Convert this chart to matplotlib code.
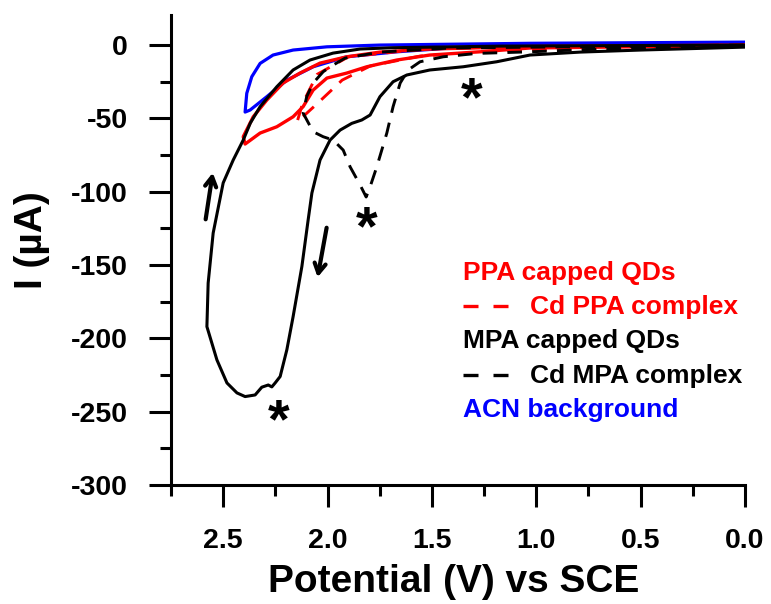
import matplotlib.pyplot as plt
import numpy as np
from matplotlib.ticker import MultipleLocator, FormatStrFormatter

plt.rcParams["font.family"] = ["Liberation Sans", "DejaVu Sans"]
plt.rcParams["font.weight"] = "bold"

# MPA capped QDs (black, solid) - forward scan to 2.58 V then back
mpa_v = [0.0, 0.50, 0.79, 1.03, 1.19, 1.35, 1.51, 1.62, 1.686, 1.749, 1.796, 1.836,
         1.884, 1.94, 1.988, 2.036, 2.075, 2.093, 2.123, 2.165, 2.195, 2.227, 2.251,
         2.267, 2.284, 2.315, 2.347, 2.395, 2.434, 2.482, 2.53, 2.578,
         2.572, 2.548, 2.50, 2.452, 2.404, 2.37, 2.323, 2.243, 2.165, 2.084, 1.974,
         1.844, 1.686, 1.17, 0.0]
mpa_i = [-1.4, -3.4, -4.8, -6.8, -11.4, -14.8, -17.0, -20.4, -25.0, -35.2, -47.7, -51.1,
         -53.4, -58.0, -64.8, -78.4, -100.9, -119.3, -151.0, -185.2, -207.8, -226.0, -230.4,
         -233.1, -231.8, -233.3, -238.6, -239.7, -237.2, -230.4, -214.7, -192.0,
         -162.3, -128.2, -94.0, -78.4, -64.8, -53.2, -42.0, -28.4, -17.0, -10.2, -5.5,
         -2.7, -1.8, -0.7, 0.0]

# Cd MPA complex (black, dashed)
cdmpa_v = [0.0, 0.694, 1.03, 1.285, 1.446, 1.557, 1.614, 1.652, 1.686, 1.716, 1.764,
           1.796, 1.815, 1.844, 1.892, 1.925, 1.973, 2.021, 2.069, 2.117,
           2.10, 2.069, 2.021, 1.987, 1.916, 1.749, 1.413, 0.0]
cdmpa_i = [-0.3, -2.7, -4.6, -5.7, -8.0, -11.4, -17.0, -25.9, -42.0, -60.0, -83.0,
           -96.6, -103.6, -95.4, -83.0, -71.6, -64.8, -62.5, -59.1, -46.4,
           -35.2, -25.9, -18.2, -14.8, -8.9, -4.8, -2.0, 0.0]

# PPA capped QDs (red, solid)
ppa_v = [0.0, 1.03, 1.27, 1.51, 1.668, 1.812, 1.908, 2.003, 2.069, 2.117, 2.165, 2.243,
         2.323, 2.395, 2.404, 2.356, 2.291, 2.213, 2.132, 2.036, 1.908, 1.749, 1.51,
         1.03, 0.0]
ppa_i = [-0.3, -2.0, -4.6, -6.8, -10.2, -14.8, -19.1, -22.5, -30.7, -42.0, -48.9, -55.7,
         -60.0, -67.5, -62.5, -48.9, -37.5, -25.9, -19.1, -12.3, -8.0, -4.8, -2.7,
         -1.0, 0.0]

# Cd PPA complex (red, dashed)
cdppa_v = [0.0, 1.08, 1.556, 1.796, 1.93, 2.05, 2.146, 2.12, 2.05, 1.90, 1.50, 0.0]
cdppa_i = [-0.7, -3.4, -7.5, -14.3, -23.9, -40.0, -52.5, -40.0, -20.0, -8.0, -2.0, 0.0]

# ACN background (blue)
acn_v = [0.0, 1.03, 1.429, 1.668, 1.908, 2.069, 2.195, 2.291, 2.371, 2.395,
         2.387, 2.363, 2.323, 2.261, 2.165, 2.003, 1.749, 1.03, 0.0]
acn_i = [1.4, 0.0, -2.2, -4.6, -8.0, -14.8, -23.9, -35.2, -44.3, -45.7,
         -32.9, -21.6, -12.5, -6.8, -3.4, -1.2, 0.0, 1.2, 2.0]

# peak markers and scan direction arrows
star_v = [1.309, 1.815, 2.236]
star_i = [-26.1, -113.6, -245.4]
arrow_up = [(2.586, -120.7), (2.548, -85.2)]
arrow_down = [(2.002, -122.7), (2.05, -160.2)]

legend_labels = ["PPA capped QDs", "Cd PPA complex", "MPA capped QDs",
                 "Cd MPA complex", "ACN background"]
legend_colors = ["#ff0000", "#ff0000", "black", "black", "#0000ff"]
legend_dashed = [False, True, False, True, False]

fig = plt.figure(figsize=(7.71, 6.04), dpi=100)
ax = fig.add_axes([171 / 771, 119 / 604, 574 / 771, 470 / 604])

dash = (5, 3.5)
ax.plot(acn_v, acn_i, color="#0000ff", lw=2.3)
ax.plot(ppa_v, ppa_i, color="#ff0000", lw=2.4)
ax.plot(cdppa_v, cdppa_i, color="#ff0000", lw=2.1, dashes=dash)
ax.plot(mpa_v, mpa_i, color="black", lw=2.2)
ax.plot(cdmpa_v, cdmpa_i, color="black", lw=2.1, dashes=dash)

star_fs = 40
for v, i in zip(star_v, star_i):
    ax.annotate("*", (v, i), xytext=(0, -0.58 * star_fs), textcoords="offset points",
                ha="center", va="baseline", fontsize=star_fs, color="black")

for start, end in [arrow_up, arrow_down]:
    ax.annotate("", xy=end, xytext=start,
                arrowprops=dict(arrowstyle="->,head_length=0.7,head_width=0.4",
                                lw=3.0, color="black"))

ax.set_xlim(2.75, 0.0)
ax.set_ylim(-300, 20.5)
ax.xaxis.set_major_locator(MultipleLocator(0.5))
ax.xaxis.set_minor_locator(MultipleLocator(0.25))
ax.yaxis.set_major_locator(MultipleLocator(50))
ax.yaxis.set_minor_locator(MultipleLocator(25))
ax.xaxis.set_major_formatter(FormatStrFormatter("%.1f"))
ax.yaxis.set_major_formatter(FormatStrFormatter("%d"))

ax.tick_params(which="major", direction="out", length=16, width=2.2, pad=15,
               labelsize=20.5)
ax.tick_params(which="minor", direction="out", length=8, width=2.2)

for s in ["top", "right"]:
    ax.spines[s].set_visible(False)
for s in ["left", "bottom"]:
    ax.spines[s].set_linewidth(2.2)

ax.set_xlabel("Potential (V) vs SCE", fontsize=28, fontweight="bold")
ax.set_ylabel("I (\u00b5A)", fontsize=28, fontweight="bold")
ax.xaxis.set_label_coords(0.492, -0.168)
ax.yaxis.set_label_coords(-0.211, 0.521)

# text legend, as in the original figure (dash key only for dashed entries)
y0, dy = 0.451, 0.0728
for k, (lab, col, dashed) in enumerate(zip(legend_labels, legend_colors, legend_dashed)):
    y = y0 - k * dy
    if dashed:
        ax.plot([0.5087, 0.5871], [y + 0.002, y + 0.002], color=col, lw=2.4,
                dashes=(4.5, 4.5), transform=ax.transAxes)
        ax.text(0.6254, y, lab, color=col, fontsize=19, va="center",
                ha="left", transform=ax.transAxes)
    else:
        ax.text(0.5087, y, lab, color=col, fontsize=19, va="center",
                ha="left", transform=ax.transAxes)

fig.savefig("out.png", dpi=100, facecolor="white")
